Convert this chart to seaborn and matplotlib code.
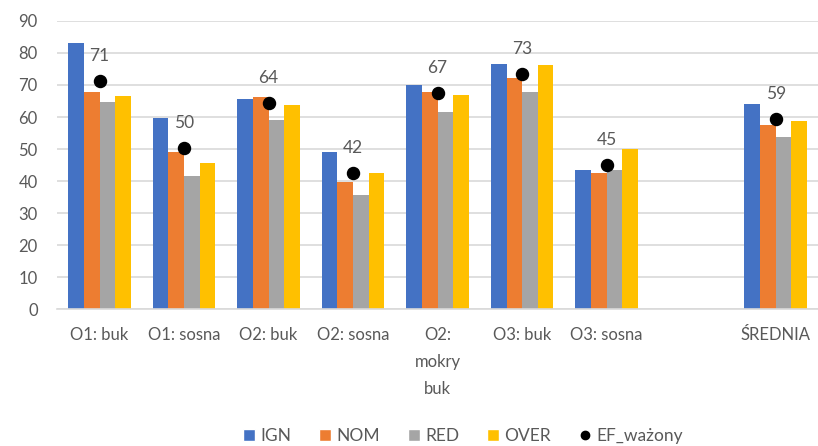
import numpy as np
import pandas as pd
import matplotlib
matplotlib.use('Agg')
import matplotlib.pyplot as plt
import seaborn as sns
from matplotlib.lines import Line2D
from matplotlib.patches import Patch

# categories (one empty slot before the average)
categories = ['O1: buk', 'O1: sosna', 'O2: buk', 'O2: sosna', 'O2:\nmokry\nbuk',
              'O3: buk', 'O3: sosna', ' ', 'ŚREDNIA']
data_categories = ['O1: buk', 'O1: sosna', 'O2: buk', 'O2: sosna', 'O2:\nmokry\nbuk',
                   'O3: buk', 'O3: sosna', 'ŚREDNIA']

ign = [83.2, 59.7, 65.7, 49.2, 70.1, 76.7, 43.5, 64.1]
nom = [67.7, 49.2, 66.2, 39.7, 67.7, 72.1, 42.6, 57.6]
red = [64.6, 41.7, 59.2, 35.6, 61.6, 67.7, 43.5, 53.7]
over = [66.6, 45.6, 63.6, 42.6, 67.0, 76.1, 50.1, 58.6]
ef_wazony = [71.4, 50.4, 64.4, 42.4, 67.4, 73.4, 45.0, 59.4]

series = ['IGN', 'NOM', 'RED', 'OVER']
colors = {'IGN': '#4472C4', 'NOM': '#ED7D31', 'RED': '#A5A5A5', 'OVER': '#FFC000'}
text_col = '#595959'

df = pd.DataFrame({'kat': data_categories, 'IGN': ign, 'NOM': nom,
                   'RED': red, 'OVER': over})
long = df.melt(id_vars='kat', var_name='seria', value_name='wart')

sns.set_style('white')
plt.rcParams['font.family'] = ['Lato', 'DejaVu Sans']

fig = plt.figure(figsize=(8.18, 4.46), dpi=100)
ax = fig.add_axes([0.07, 0.307, 0.93, 0.646])

sns.barplot(data=long, x='kat', y='wart', hue='seria', order=categories,
            hue_order=series, palette=colors, width=0.74, gap=0,
            saturation=1, ax=ax, legend=False, errorbar=None, linewidth=0)

# weighted EF dots with labels
xpos = [categories.index(c) for c in data_categories]
ax.scatter(xpos, ef_wazony, s=75, color='black', zorder=5)
for x, v in zip(xpos, ef_wazony):
    ax.annotate(f'{v:.0f}', (x, v), xytext=(0, 18), textcoords='offset points',
                ha='center', va='center', fontsize=12.5, color=text_col)

ax.set_ylim(0, 90)
ax.set_xlim(-0.5, len(categories) - 0.5)
ax.set_yticks(range(0, 91, 10))
ax.yaxis.grid(True, color='#d9d9d9', lw=1.2)
ax.set_axisbelow(True)
for s in ['top', 'right', 'left']:
    ax.spines[s].set_visible(False)
ax.spines['bottom'].set_color('#d9d9d9')
ax.spines['bottom'].set_linewidth(1.2)
ax.set_xlabel('')
ax.set_ylabel('')
ax.tick_params(axis='both', length=0, labelsize=12, colors=text_col)
ax.tick_params(axis='x', pad=13)
ax.tick_params(axis='y', pad=14)
for lab in ax.get_xticklabels():
    lab.set_linespacing(1.85)
    lab.set_verticalalignment('top')

handles = [Patch(facecolor=colors[s], label=s) for s in series]
handles.append(Line2D([], [], marker='o', color='black', lw=0, markersize=6,
                      label='EF_ważony'))
leg = fig.legend(handles=handles, loc='center', bbox_to_anchor=(0.566, 0.022),
                 ncol=5, frameon=False, fontsize=12.5, handlelength=0.7,
                 handleheight=0.7, handletextpad=0.3, columnspacing=1.6)
for t in leg.get_texts():
    t.set_color(text_col)

fig.savefig('out.png', dpi=100)
